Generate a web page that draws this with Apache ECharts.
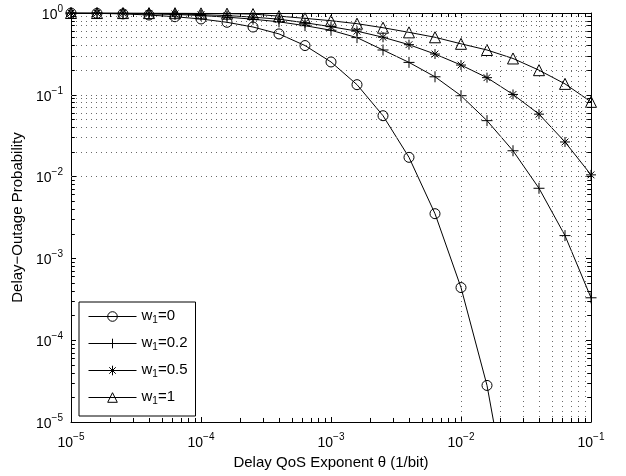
<!DOCTYPE html>
<html><head><meta charset="utf-8">
<script src="https://cdn.jsdelivr.net/npm/echarts@6/dist/echarts.min.js"></script>
<style>html,body{margin:0;padding:0;background:#fff}#c{width:626px;height:476px}</style>
</head><body><div id="c"></div>
<script>
// Data
const thetas = [1e-5, 1.585e-5, 2.512e-5, 3.981e-5, 6.31e-5, 1e-4, 1.585e-4, 2.512e-4, 3.981e-4, 6.31e-4,
                1e-3, 1.585e-3, 2.512e-3, 3.981e-3, 6.31e-3, 1e-2, 1.585e-2, 2.512e-2, 3.981e-2, 6.31e-2, 1e-1];
const outageW0  = [0.997, 0.99, 0.975, 0.945, 0.90, 0.845, 0.77, 0.674, 0.555, 0.40, 0.252, 0.133, 0.0555, 0.0172, 0.00352, 4.4e-4, 2.8e-5, 5e-7];
const outageW02 = [0.998, 0.995, 0.99, 0.975, 0.96, 0.93, 0.89, 0.84, 0.78, 0.70, 0.615, 0.50, 0.353, 0.249, 0.166, 0.0975, 0.0483, 0.0207, 0.0072, 0.0019, 3.3e-4];
const outageW05 = [0.999, 0.997, 0.995, 0.99, 0.975, 0.955, 0.93, 0.89, 0.84, 0.76, 0.68, 0.60, 0.505, 0.41, 0.315, 0.231, 0.162, 0.101, 0.058, 0.0265, 0.0105];
const outageW1  = [1.0, 0.999, 0.998, 0.997, 0.995, 0.99, 0.982, 0.97, 0.915, 0.86, 0.805, 0.74, 0.661, 0.58, 0.505, 0.42, 0.353, 0.278, 0.2, 0.136, 0.082];
const seriesNames = ['w1=0', 'w1=0.2', 'w1=0.5', 'w1=1'];
const xTickValues = [1e-5, 1e-4, 1e-3, 1e-2, 1e-1];
const yTickValues = [1e-5, 1e-4, 1e-3, 1e-2, 1e-1, 1];

const FONT = 'Liberation Sans, Arial, Helvetica, sans-serif';
function pair(vals) { return vals.map(function (v, i) { return [thetas[i], v]; }); }
function powLabel(v) {
  const e = Math.round(Math.log10(v));
  return '{b|10}{sup|' + (e < 0 ? '\u2212' + (-e) : String(e)) + '}';
}
const labelRich = {
  b: { fontSize: 14, fontFamily: FONT, color: '#000', verticalAlign: 'bottom' },
  sup: { fontSize: 10, fontFamily: FONT, color: '#000', verticalAlign: 'bottom', padding: [0, 0, 8, 0] }
};

// grid positions (decoration only)
const xGrid = [], yGrid = [];
for (let d = -5; d <= -2; d++) for (let m = 1; m <= 9; m++) { const v = m * Math.pow(10, d); if (v > 1.0001e-5) xGrid.push(+v.toPrecision(3)); }
for (let d = -5; d <= -1; d++) for (let m = 1; m <= 9; m++) { const v = m * Math.pow(10, d); if (v > 1.0001e-5) yGrid.push(+v.toPrecision(3)); }
const gridLines = [];
xGrid.forEach(function (v) { gridLines.push({ xAxis: v }); });
yGrid.forEach(function (v) { gridLines.push({ yAxis: v }); });
// minor ticks on the box (drawn in data space)
const minorTicks = [];
xGrid.forEach(function (v) {
  if (xTickValues.indexOf(v) >= 0) return;
  minorTicks.push([{ coord: [v, 1e-5] }, { coord: [v, 1.12e-5] }]);
  minorTicks.push([{ coord: [v, 1] }, { coord: [v, 0.893] }]);
});
yGrid.forEach(function (v) {
  if (yTickValues.indexOf(v) >= 0) return;
  minorTicks.push([{ coord: [1e-5, v] }, { coord: [1.07e-5, v] }]);
  minorTicks.push([{ coord: [0.1, v] }, { coord: [0.0935, v] }]);
});

const symbols = [
  'circle',
  'path://M5,0L5,10M0,5L10,5',
  'path://M5,0L5,10M0,5L10,5M1.6,1.6L8.4,8.4M1.6,8.4L8.4,1.6',
  'triangle'
];
const symbolSizes = [10, 11, 10, 11];
const allValues = [outageW0, outageW02, outageW05, outageW1];

const series = allValues.map(function (vals, i) {
  return {
    name: seriesNames[i], type: 'line', data: pair(vals),
    xAxisIndex: 0, yAxisIndex: 0,
    symbol: symbols[i], symbolSize: symbolSizes[i], showSymbol: true, showAllSymbol: true,
    clip: true, z: 3,
    lineStyle: { color: '#000', width: 1 },
    itemStyle: { color: 'rgba(0,0,0,0)', borderColor: '#000', borderWidth: 1 },
    emphasis: { disabled: true }
  };
});
series.unshift({
  name: 'grid', type: 'line', data: [], xAxisIndex: 0, yAxisIndex: 0, z: 1, silent: true,
  markLine: {
    silent: true, symbol: ['none', 'none'], label: { show: false }, animation: false,
    lineStyle: { color: '#6a6a6a', type: [1, 4], width: 1 },
    emphasis: { disabled: true },
    data: gridLines.concat(minorTicks.map(function (seg) {
      return [Object.assign({}, seg[0], { lineStyle: { type: 'solid', color: '#000' } }), seg[1]];
    }))
  }
});

function logAxis(pos, show, extra) {
  return Object.assign({
    type: 'log', logBase: 10, position: pos,
    axisLine: { show: true, onZero: false, lineStyle: { color: '#000', width: 1 } },
    axisTick: { show: true, inside: true, length: 5, lineStyle: { color: '#000' } },
    splitLine: { show: false },
    axisLabel: show ? { show: true, formatter: powLabel, rich: labelRich, color: '#000' } : { show: false }
  }, extra);
}

const chart = echarts.init(document.getElementById('c'), null, { renderer: 'canvas' });
chart.setOption({
  animation: false,
  backgroundColor: '#fff',
  grid: { left: 71, right: 35, top: 13, bottom: 54, containLabel: false },
  xAxis: [
    logAxis('bottom', true, {
      min: 1e-5, max: 1e-1,
      name: 'Delay QoS Exponent \u03b8 (1/bit)', nameLocation: 'middle', nameGap: 29,
      nameTextStyle: { fontSize: 15, fontFamily: FONT, color: '#000' },
      axisLabel: { show: true, formatter: powLabel, rich: labelRich, margin: 10 }
    }),
    logAxis('top', false, { min: 1e-5, max: 1e-1 })
  ],
  yAxis: [
    logAxis('left', true, {
      min: 1e-5, max: 1,
      name: 'Delay\u2212Outage Probability', nameLocation: 'middle', nameGap: 42,
      nameTextStyle: { fontSize: 15, fontFamily: FONT, color: '#000' },
      axisLabel: { show: true, formatter: powLabel, rich: labelRich, margin: 8 }
    }),
    logAxis('right', false, { min: 1e-5, max: 1 })
  ],
  legend: {
    data: seriesNames, orient: 'vertical', left: 79, top: 302,
    backgroundColor: '#fff', borderColor: '#000', borderWidth: 1,
    padding: [6, 8, 10, 9], itemWidth: 48, itemHeight: 12, itemGap: 10,
    z: 10,
    lineStyle: { color: '#000', width: 1 },
    itemStyle: { color: 'rgba(0,0,0,0)', borderColor: '#000', borderWidth: 1 },
    formatter: function (n) { return '{b|w}{sub|1}{b|' + n.slice(2) + '}'; },
    textStyle: {
      color: '#000', fontFamily: FONT, fontSize: 15,
      rich: {
        b: { fontSize: 15, fontFamily: FONT, color: '#000', verticalAlign: 'top' },
        sub: { fontSize: 10, fontFamily: FONT, color: '#000', verticalAlign: 'top', padding: [7, 0, 0, 0] }
      }
    }
  },
  series: series
});
</script>
</body></html>
